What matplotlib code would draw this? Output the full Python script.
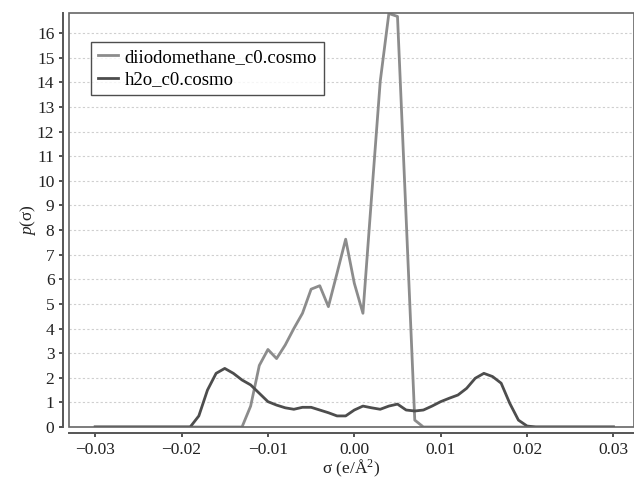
import numpy as np
import matplotlib
matplotlib.use("Agg")
import matplotlib.pyplot as plt
from matplotlib.patches import Rectangle

plt.rcParams['font.family'] = ['Liberation Serif', 'DejaVu Serif']
plt.rcParams['mathtext.fontset'] = 'custom'
plt.rcParams['mathtext.rm'] = 'Liberation Serif'
plt.rcParams['mathtext.it'] = 'Liberation Serif:italic'

# sigma grid (e/A^2), steps of 0.001
sigma = np.round(np.arange(-30, 31) * 0.001, 3)

diiodo = [0.0] * 18 + [
    0.85, 2.5, 3.15, 2.78, 3.33, 4.0, 4.62, 5.6, 5.74, 4.89,
    6.25, 7.63, 5.84, 4.62, 9.36, 14.04, 16.8, 16.68, 8.5, 0.28,
] + [0.0] * 23

h2o = [0.0] * 12 + [
    0.45, 1.5, 2.18, 2.38, 2.18, 1.91, 1.71, 1.37, 1.03, 0.89,
    0.78, 0.72, 0.80, 0.80, 0.69, 0.58, 0.45, 0.45, 0.69, 0.85,
    0.78, 0.72, 0.85, 0.93, 0.69, 0.65, 0.69, 0.85, 1.03, 1.17,
    1.30, 1.57, 1.98, 2.18, 2.05, 1.78, 0.96, 0.28, 0.04,
] + [0.0] * 10

labels = ['diiodomethane_c0.cosmo', 'h2o_c0.cosmo']
colors = ['#8c8c8c', '#4d4d4d']

fig = plt.figure(figsize=(6.34, 4.86), dpi=100)
ax = fig.add_axes([69 / 634, 1 - 427 / 486, 1 - 69 / 634, (427 - 13) / 486])

ax.plot(sigma, diiodo, color=colors[0], lw=2.0, label=labels[0])
ax.plot(sigma, h2o, color=colors[1], lw=2.0, label=labels[1])

ax.set_xlim(-0.03303, 0.03238)
ax.set_ylim(0, 16.82)
ax.set_xticks([-0.03, -0.02, -0.01, 0.0, 0.01, 0.02, 0.03])
ax.set_xticklabels(['\u22120.03', '\u22120.02', '\u22120.01', '0.00', '0.01', '0.02', '0.03'])
ax.set_yticks(range(0, 17))

ax.grid(axis='y', color='#cfcfcf', ls=(0, (2, 2)), lw=0.8)
ax.grid(axis='x', visible=False)

for s in ['top', 'right']:
    ax.spines[s].set_visible(False)
for s in ['left', 'bottom']:
    ax.spines[s].set_position(('outward', 4))
    ax.spines[s].set_color('#555555')
    ax.spines[s].set_linewidth(1.4)
ax.add_patch(Rectangle((0, 0), 1, 1, transform=ax.transAxes, fill=False,
                       ec='#666666', lw=1.2, clip_on=False, zorder=3))

ax.tick_params(axis='both', labelsize=12.5, colors='#333333', length=3, width=1.2,
               labelcolor='#222222')

ax.set_xlabel('\u03c3 (e/\u00c5$^2$)', fontsize=12.5, color='#222222', labelpad=0)
ax.set_ylabel('$p$(\u03c3)', fontsize=12.5, color='#222222', labelpad=-1)

leg = ax.legend(loc='upper left', bbox_to_anchor=(0.039, 0.930), fontsize=13.5,
                frameon=True, fancybox=False, handlelength=1.1, handletextpad=0.35,
                borderpad=0.35, labelspacing=0.3, borderaxespad=0)
leg.get_frame().set_edgecolor('#222222')
leg.get_frame().set_linewidth(1.0)

fig.savefig('out.png', dpi=100)
